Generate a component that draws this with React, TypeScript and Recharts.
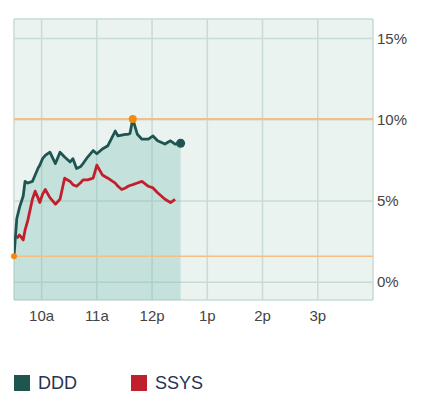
import React from "react";
import {
  ComposedChart,
  Area,
  Line,
  XAxis,
  YAxis,
  CartesianGrid,
  ReferenceLine,
  ReferenceDot,
} from "recharts";

// minutes since midnight
const times = [
  570, 573, 576, 580, 582, 585, 590, 593, 596, 598, 601, 604, 609, 615, 620, 625, 631, 634, 638, 642,
  645, 650, 656, 660, 666, 672, 680, 683, 687, 691, 694, 696, 699, 704, 709, 716, 721, 726, 734, 740,
  745, 751,
];
const dddValues = [
  1.6, 3.9, 4.6, 5.3, 6.2, 6.1, 6.2, 6.6, 7.0, 7.2, 7.6, 7.8, 8.0, 7.3, 8.0, 7.7, 7.4, 7.6, 7.0, 7.1,
  7.3, 7.7, 8.1, 7.9, 8.2, 8.4, 9.3, 9.0, 9.05, 9.1, 9.1, 9.15, 10.05, 9.1, 8.8, 8.8, 9.0, 8.7, 8.5, 8.7,
  8.5, 8.55,
];
const ssysValues: (number | null)[] = [
  null, 2.7, 2.9, 2.6, 3.2, 3.8, 5.1, 5.6, 5.2, 4.9, 5.4, 5.7, 5.2, 4.8, 5.1, 6.4, 6.2, 6.0, 5.9, 6.1,
  6.3, 6.3, 6.4, 7.2, 6.6, 6.4, 6.1, 5.9, 5.7, 5.8, 5.9, 5.95, 6.0, 6.1, 6.2, 5.9, 5.8, 5.5, 5.1, 4.9,
  5.1, null,
];
const xTicks = [600, 660, 720, 780, 840, 900, 960];
const xTickLabels = ["10a", "11a", "12p", "1p", "2p", "3p", ""];
const yTicks = [0, 5, 10, 15];
const seriesNames = ["DDD", "SSYS"];

const data = times.map((t, i) => ({ t, ddd: dddValues[i], ssys: ssysValues[i] }));

const maxDdd = Math.max(...dddValues);
const maxIdx = dddValues.indexOf(maxDdd);
const openVal = dddValues[0];
const lastIdx = dddValues.length - 1;

const DDD_COLOR = "#1f5551";
const SSYS_COLOR = "#c21f2c";
const ORANGE_LINE = "#f5bf82";
const ORANGE_DOT = "#f7890a";
const FONT = "'Liberation Sans', Arial, sans-serif";

export default function App() {
  return (
    <div style={{ position: "absolute", left: 0, top: 0, width: 425, height: 398, background: "#fff" }}>
      <ComposedChart
        width={425}
        height={330}
        data={data}
        margin={{ top: 19, right: 0, bottom: 0, left: 14 }}
      >
        <CartesianGrid fill="#eaf3ef" stroke="#c8dbd6" strokeWidth={1.5} />
        <XAxis
          dataKey="t"
          type="number"
          domain={[570, 960]}
          ticks={xTicks}
          tickFormatter={(v: number) => xTickLabels[xTicks.indexOf(v)]}
          axisLine={false}
          tickLine={false}
          tickMargin={4}
          height={30}
          tick={{ fill: "#444", fontSize: 15, fontFamily: FONT }}
          allowDataOverflow
        />
        <YAxis
          orientation="right"
          type="number"
          domain={[-1.1, 16.2]}
          ticks={yTicks}
          tickFormatter={(v: number) => `${v}%`}
          axisLine={false}
          tickLine={false}
          tickSize={4}
          tickMargin={0}
          width={52}
          tick={{ fill: "#444", fontSize: 15, fontFamily: FONT, textAnchor: "start" }}
          allowDataOverflow
        />
        <Area
          dataKey="ddd"
          type="linear"
          baseValue="dataMin"
          stroke="none"
          fill="#6fb9ab"
          fillOpacity={0.3}
          isAnimationActive={false}
        />
        <ReferenceLine y={maxDdd} stroke={ORANGE_LINE} strokeWidth={2} />
        <ReferenceLine y={openVal} stroke={ORANGE_LINE} strokeWidth={1.5} />
        <Line
          dataKey="ssys"
          type="linear"
          stroke={SSYS_COLOR}
          strokeWidth={2.8}
          dot={false}
          strokeLinejoin="round"
          isAnimationActive={false}
        />
        <Line
          dataKey="ddd"
          type="linear"
          stroke={DDD_COLOR}
          strokeWidth={2.8}
          dot={false}
          strokeLinejoin="round"
          isAnimationActive={false}
        />
        <ReferenceDot x={times[maxIdx]} y={maxDdd} r={4} fill={ORANGE_DOT} stroke="none" />
        <ReferenceDot x={times[0]} y={openVal} r={3} fill={ORANGE_DOT} stroke="none" />
        <ReferenceDot x={times[lastIdx]} y={dddValues[lastIdx]} r={4.5} fill={DDD_COLOR} stroke="none" />
      </ComposedChart>
      {[DDD_COLOR, SSYS_COLOR].map((c, i) => (
        <div
          key={seriesNames[i]}
          style={{
            position: "absolute",
            left: i === 0 ? 14 : 131,
            top: 374,
            display: "flex",
            alignItems: "center",
            fontFamily: FONT,
            fontSize: 18,
            color: "#27344f",
            lineHeight: "18px",
          }}
        >
          <span style={{ display: "inline-block", width: 16, height: 16, background: c, marginRight: 8 }} />
          <span>{seriesNames[i]}</span>
        </div>
      ))}
    </div>
  );
}
